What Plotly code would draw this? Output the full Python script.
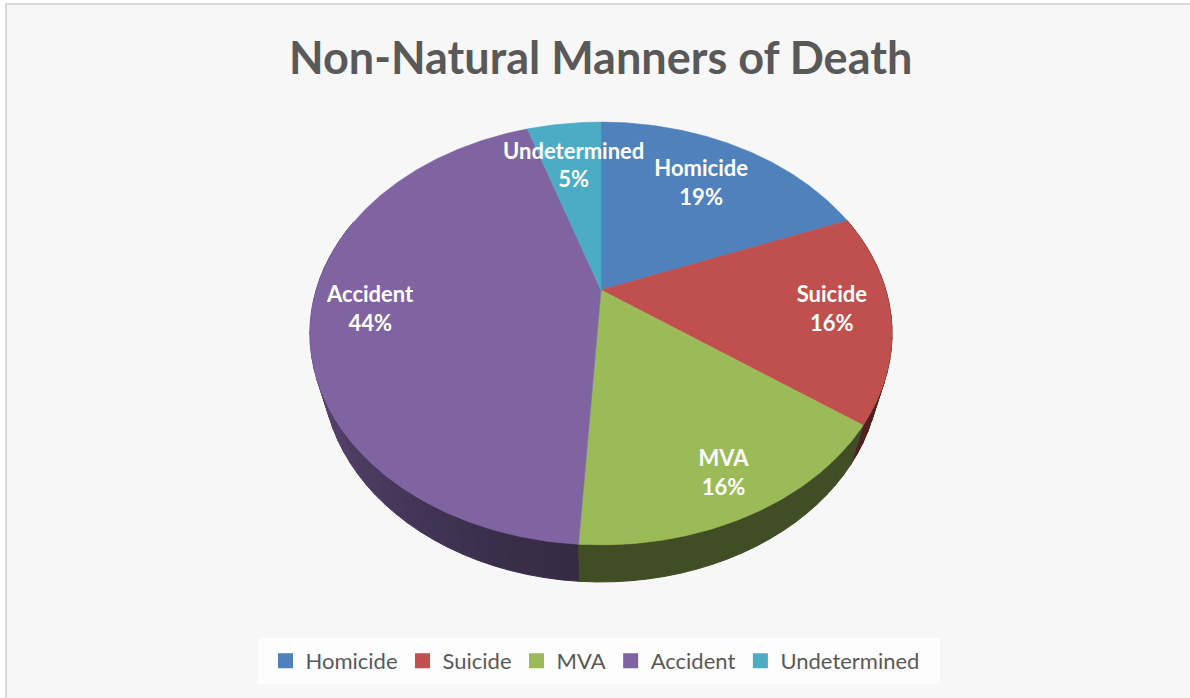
import numpy as np
import plotly.graph_objects as go

# ---------------- data ----------------
categories = ["Homicide", "Suicide", "MVA", "Accident", "Undetermined"]
values = [19, 16, 16, 44, 5]

# ---------------- styles ----------------
colors = ["#4F81BD", "#C0504D", "#9BBB59", "#8064A2", "#4BACC6"]
label_radius = [0.7, 0.8, 0.85, 0.8, 0.7]
FONT = "Lato"
TEXT_GREY = "#595959"

# perspective projection of a tilted 3-D pie (screen pixel space)
CX, CY = 601.0, 290.0
F = 974.4
DIST = 3.421
PHI = np.radians(45.3)
THICK = 0.211


def project(theta, r=1.0, w=0.0):
    u = r * np.sin(theta)
    v = r * np.cos(theta)
    depth = DIST + v * np.cos(PHI) - w * np.sin(PHI)
    up = v * np.sin(PHI) + w * np.cos(PHI)
    return CX + F * u / depth, CY - F * up / depth


def shade(hex_color, k):
    h = hex_color.lstrip("#")
    r, g, b = (int(h[i:i + 2], 16) for i in (0, 2, 4))
    return "rgb(%d,%d,%d)" % (r * k, g * k, b * k)


total = float(sum(values))
fractions = [v / total for v in values]
starts = np.concatenate([[0.0], np.cumsum(fractions)[:-1]]) * 2 * np.pi
ends = np.cumsum(fractions) * 2 * np.pi

fig = go.Figure()

# ---- side walls (drawn far to near) ----
segments = []
step = np.radians(3)
for i, (a0, a1) in enumerate(zip(starts, ends)):
    n = max(1, int(np.ceil((a1 - a0) / step)))
    edges = np.linspace(a0, a1, n + 1)
    for s0, s1 in zip(edges[:-1], edges[1:]):
        mid = 0.5 * (s0 + s1)
        if np.cos(mid) > 0.35:
            continue
        segments.append((np.cos(mid), i, s0, s1, mid))
segments.sort(key=lambda t: -t[0])
for _, i, s0, s1, mid in segments:
    th = np.linspace(s0, s1, 4)
    xt, yt = project(th, 1.0, 0.0)
    xb, yb = project(th[::-1], 1.0, -THICK)
    k = 0.42 + 0.28 * max(0.0, -np.sin(mid)) ** 1.5
    col = shade(colors[i], k)
    fig.add_trace(go.Scatter(
        x=np.concatenate([xt, xb, xt[:1]]), y=np.concatenate([yt, yb, yt[:1]]),
        mode="lines", fill="toself", fillcolor=col,
        line=dict(color=col, width=1), hoverinfo="skip", showlegend=False))

# ---- top faces ----
for i, (a0, a1) in enumerate(zip(starts, ends)):
    th = np.linspace(a0, a1, max(3, int(np.degrees(a1 - a0) * 2)))
    xr, yr = project(th)
    fig.add_trace(go.Scatter(
        x=np.concatenate([[CX], xr, [CX]]), y=np.concatenate([[CY], yr, [CY]]),
        mode="lines", fill="toself", fillcolor=colors[i],
        line=dict(color=colors[i], width=0.6),
        name=categories[i], hovertemplate=f"{categories[i]}: {values[i]}<extra></extra>",
        showlegend=False))

# ---- data labels ----
mids = 0.5 * (starts + ends)
lx, ly = project(mids, np.array(label_radius))
fig.add_trace(go.Scatter(
    x=lx, y=ly, mode="text",
    text=[f"{c}<br>{round(f * 100)}%" for c, f in zip(categories, fractions)],
    textfont=dict(family=FONT, size=22, color="white", weight="bold"),
    hoverinfo="skip", showlegend=False))

# ---- legend entries ----
for c, col in zip(categories, colors):
    fig.add_trace(go.Scatter(
        x=[None], y=[None], mode="markers", name=c,
        marker=dict(symbol="square", size=15, color=col)))

fig.update_layout(
    width=1190, height=698,
    margin=dict(l=0, r=0, t=0, b=0),
    paper_bgcolor="white", plot_bgcolor="rgba(0,0,0,0)",
    xaxis=dict(range=[0, 1190], visible=False, fixedrange=True),
    yaxis=dict(range=[698, 0], visible=False, fixedrange=True),
    showlegend=True,
    legend=dict(orientation="h", x=0.5, xanchor="center",
                y=1 - 661 / 698, yanchor="middle",
                font=dict(family=FONT, size=22, color=TEXT_GREY),
                bgcolor="rgba(0,0,0,0)", itemwidth=30, itemsizing="trace",
                tracegroupgap=0),
    shapes=[
        dict(type="rect", xref="x", yref="y", x0=6, y0=4, x1=1196, y1=704,
             fillcolor="#f7f7f7", line=dict(color="#d9d9d9", width=2), layer="below"),
        dict(type="rect", xref="x", yref="y", x0=258, y0=638, x1=940, y1=684,
             fillcolor="#fdfdfd", line=dict(width=0), layer="below"),
    ],
    annotations=[
        dict(text="Non-Natural Manners of Death", x=600, y=57, xref="x", yref="y",
             showarrow=False, xanchor="center", yanchor="middle",
             font=dict(family=FONT, size=45, color=TEXT_GREY, weight="bold")),
    ],
)

fig.write_html("out.html", config={"displayModeBar": False},
               post_script="document.body.style.margin='0';document.body.style.overflow='hidden';")
